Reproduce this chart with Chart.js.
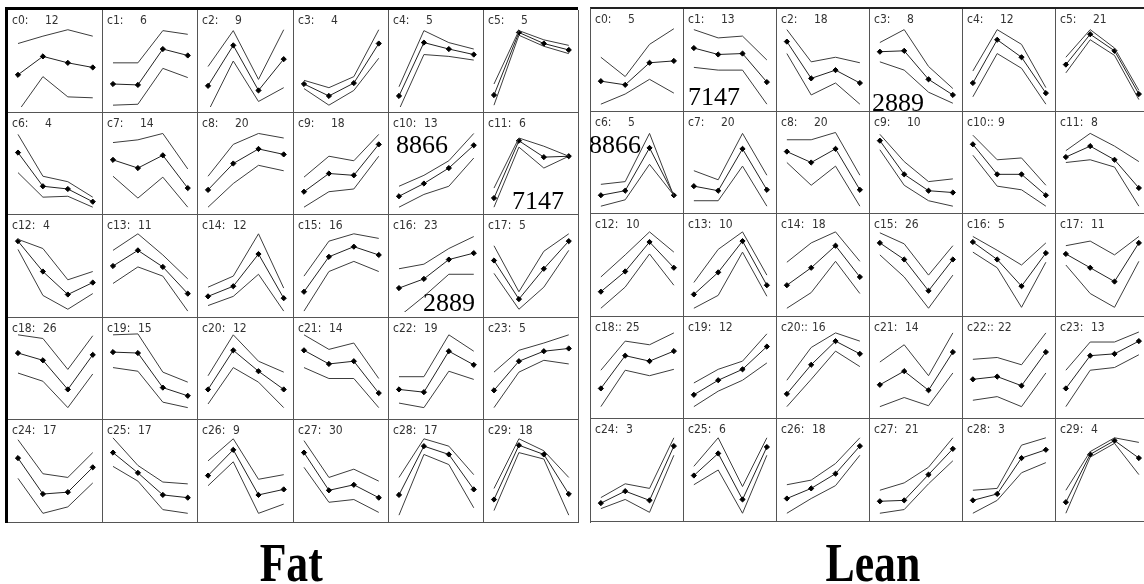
<!DOCTYPE html>
<html>
<head>
  <title>Fat / Lean clusters</title>
  <script src="https://cdn.jsdelivr.net/npm/chart.js"></script>
  <style>
    body { margin: 0; background: #fff; width: 1144px; height: 584px; overflow: hidden; position: relative; }
    .grid { position: absolute; box-sizing: border-box; }
    .panel { position: absolute; box-sizing: border-box; border-right: 1px solid #555; border-bottom: 1px solid #555; }
    .panel canvas { position: absolute; left: 0; top: 0; }
    .lab { position: absolute; font-family: "DejaVu Sans Condensed", "Liberation Sans", sans-serif; font-size: 12px; color: #333; top: 3px; white-space: pre; }
    .big { position: absolute; font-family: "Liberation Serif", "DejaVu Serif", serif; font-size: 26px; color: #000; line-height: 1; }
    .title { position: absolute; font-family: "Liberation Serif", serif; font-weight: bold; font-size: 46px; color: #000; transform: scale(0.95, 1.2); line-height: 1; }
  </style>
</head>
<body>
  <div class="grid" id="fatGrid" style="left:5px;top:7px;width:573px;height:516px;border-left:3px solid #000;border-top:3px solid #000;"></div>
  <div class="grid" id="leanGrid" style="left:590px;top:7px;width:560px;height:516px;border-left:1px solid #555;border-top:2px solid #222;"></div>

  <div class="big" style="left:396px;top:132px;">8866</div>
  <div class="big" style="left:512px;top:188px;">7147</div>
  <div class="big" style="left:423px;top:290px;">2889</div>
  <div class="big" style="left:688px;top:84px;">7147</div>
  <div class="big" style="left:872px;top:90px;">2889</div>
  <div class="big" style="left:589px;top:132px;">8866</div>

  <div class="title" style="left:258px;top:540px;">Fat</div>
  <div class="title" style="left:823px;top:540px;">Lean</div>

  <script>
    // panel values: 0 = bottom of panel, 100 = top
    var fatLabels = ['c0:','c1:','c2:','c3:','c4:','c5:','c6:','c7:','c8:','c9:','c10:','c11:','c12:','c13:','c14:','c15:','c16:','c17:','c18:','c19:','c20:','c21:','c22:','c23:','c24:','c25:','c26:','c27:','c28:','c29:'];
    var fatCounts = [12,6,9,4,5,5, 4,14,20,18,13,6, 4,11,12,16,23,5, 26,15,12,14,19,5, 17,17,9,30,17,18];
    var fatUpper = [
      [69,77,84,77],[48,48,83,79],[44,83,30,84],[29,21,33,84],[22,83,70,63],[25,83,73,67],
      [82,36,30,13],[73,76,83,44],[36,71,83,78],[35,58,53,82],[25,37,53,83],[23,78,69,58],
      [79,69,35,44],[67,85,62,36],[27,39,85,26],[39,77,85,80],[47,52,69,82],[72,22,66,85],
      [87,83,49,86],[87,88,46,35],[42,87,58,46],[87,71,78,39],[41,41,87,69],[46,70,78,87],
      [84,47,43,70],[86,56,38,36],[61,85,41,46],[83,43,52,39],[43,85,77,46],[31,85,72,43]
    ];
    var fatMean = [
      [35,55,48,43],[25,24,63,56],[23,67,18,52],[25,12,26,69],[12,70,63,57],[13,81,69,62],
      [62,25,22,8],[54,45,59,23],[21,50,66,60],[19,39,37,71],[14,28,45,70],[12,75,57,58],
      [77,44,19,32],[50,67,49,20],[17,28,63,15],[22,60,71,62],[26,36,57,64],[56,14,47,77],
      [67,59,27,65],[68,67,29,20],[27,70,47,27],[70,55,58,23],[27,24,69,54],[26,58,69,72],
      [64,25,27,54],[70,48,24,21],[45,73,24,30],[70,29,35,21],[24,77,68,30],[19,78,68,25]
    ];
    var fatLower = [
      [-5,33,11,10],[2,3,42,32],[-5,50,6,21],[20,2,18,53],[-3,57,55,51],[2,78,66,58],
      [40,13,14,2],[36,12,35,2],[2,28,48,42],[2,19,22,58],[2,16,25,56],[2,68,45,58],
      [68,18,3,20],[31,49,39,1],[7,17,41,1],[1,44,55,44],[-5,17,41,41],[42,3,27,67],
      [45,36,7,44],[51,47,13,7],[11,51,35,7],[51,39,39,7],[12,7,47,38],[7,46,59,55],
      [42,4,11,37],[55,39,8,4],[34,60,4,14],[54,16,19,5],[2,68,57,10],[7,70,63,2]
    ];

    var leanLabels = ['c0:','c1:','c2:','c3:','c4:','c5:','c6:','c7:','c8:','c9:','c10::','c11:','c12:','c13:','c14:','c15:','c16:','c17:','c18::','c19:','c20::','c21:','c22::','c23:','c24:','c25:','c26:','c27:','c28:','c29:'];
    var leanCounts = [5,13,18,8,12,21, 5,20,20,10,9,8, 10,10,18,26,5,11, 25,12,16,14,22,13, 3,6,18,21,3,4];
    var leanUpper = [
      [53,32,67,84],[83,74,76,50],[83,48,53,47],[69,83,43,19],[38,83,67,20],[53,83,63,17],
      [26,29,82,13],[41,31,82,36],[75,75,83,36],[81,51,29,32],[80,53,55,25],[63,82,68,51],
      [37,61,86,64],[31,67,86,39],[53,74,86,54],[85,73,39,71],[81,66,50,74],[71,76,61,81],
      [47,79,75,88],[33,48,57,87],[36,72,88,79],[56,75,41,88],[59,61,53,88],[47,78,78,89],
      [20,35,30,85],[54,85,32,85],[34,39,57,85],[28,36,53,85],[28,30,77,85],[28,70,85,80]
    ];
    var leanMean = [
      [27,23,47,49],[63,56,57,26],[70,30,39,25],[59,60,29,12],[25,72,53,14],[45,78,60,13],
      [14,19,66,14],[24,19,65,20],[62,50,65,20],[74,37,19,17],[70,37,37,14],[56,68,53,22],
      [21,43,75,47],[18,42,76,28],[28,47,71,37],[74,56,22,56],[75,56,27,63],[62,47,32,74],
      [27,63,57,68],[20,36,48,73],[21,53,79,65],[31,46,25,67],[37,40,30,67],[27,63,65,79],
      [14,27,17,76],[44,68,18,75],[19,30,46,76],[16,17,45,73],[17,24,63,72],[15,67,82,63]
    ];
    var leanLower = [
      [2,13,29,14],[42,39,39,2],[57,12,25,2],[48,39,15,3],[10,57,41,2],[36,72,55,7],
      [2,9,48,14],[8,8,46,2],[50,25,46,2],[64,25,8,2],[58,24,20,2],[50,53,45,2],
      [3,26,62,28],[3,17,64,16],[3,20,54,19],[61,37,3,39],[64,47,4,53],[50,19,4,54],
      [7,47,41,48],[7,24,36,55],[7,37,68,51],[7,17,8,44],[14,18,7,44],[7,47,50,64],
      [8,18,4,66],[34,50,3,66],[3,19,33,66],[3,7,35,60],[3,17,47,58],[3,64,79,45]
    ];

    function toXY(arr) {
      var out = [];
      for (var i = 0; i < arr.length; i++) out.push({x: i, y: arr[i]});
      return out;
    }

    function buildGrid(gridId, colW, rowH, labels, counts, upper, mean, lower) {
      var grid = document.getElementById(gridId);
      for (var k = 0; k < 30; k++) {
        var r = Math.floor(k / 6), c = k % 6;
        var x1 = Math.round(c * colW), x2 = Math.round((c + 1) * colW);
        var y1 = Math.round(r * rowH), y2 = Math.round((r + 1) * rowH);
        var w = x2 - x1, h = y2 - y1;

        var panel = document.createElement('div');
        panel.className = 'panel';
        panel.style.left = x1 + 'px';
        panel.style.top = y1 + 'px';
        panel.style.width = w + 'px';
        panel.style.height = h + 'px';
        grid.appendChild(panel);

        var cv = document.createElement('canvas');
        cv.width = w - 1;
        cv.height = h - 1;
        panel.appendChild(cv);

        var l1 = document.createElement('span');
        l1.className = 'lab';
        l1.style.left = '4px';
        l1.textContent = labels[k];
        panel.appendChild(l1);
        var l2 = document.createElement('span');
        l2.className = 'lab';
        l2.style.left = (labels[k].length > 3 ? 35 : 37) + 'px';
        l2.textContent = counts[k];
        panel.appendChild(l2);

        var lineCol = '#3c3c3c';
        new Chart(cv, {
          type: 'line',
          data: {
            datasets: [
              { data: toXY(upper[k]), borderColor: lineCol, borderWidth: 1, pointRadius: 0, tension: 0 },
              { data: toXY(mean[k]), borderColor: '#222', borderWidth: 1, tension: 0,
                pointStyle: 'rectRot', pointRadius: 2.6, pointBorderWidth: 1,
                pointBackgroundColor: '#000', pointBorderColor: '#000' },
              { data: toXY(lower[k]), borderColor: lineCol, borderWidth: 1, pointRadius: 0, tension: 0 }
            ]
          },
          options: {
            responsive: false,
            animation: false,
            events: [],
            layout: { padding: 0 },
            plugins: { legend: { display: false }, tooltip: { enabled: false } },
            scales: {
              x: { type: 'linear', min: -0.2, max: 3.17, display: false },
              y: { min: 0, max: 100, display: false }
            }
          }
        });
      }
    }

    buildGrid('fatGrid', 95.2, 102.6, fatLabels, fatCounts, fatUpper, fatMean, fatLower);
    buildGrid('leanGrid', 93, 102.6, leanLabels, leanCounts, leanUpper, leanMean, leanLower);
  </script>
</body>
</html>
